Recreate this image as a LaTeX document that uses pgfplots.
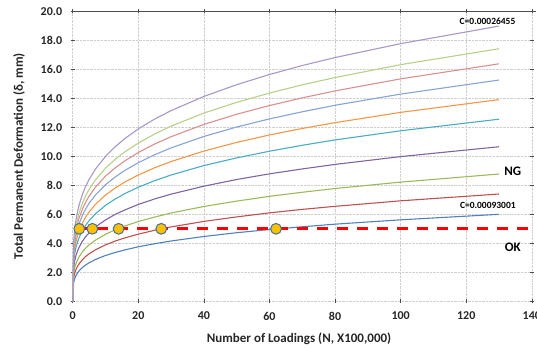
\documentclass[border=0pt]{standalone}
\usepackage{pgfplots}
\pgfplotsset{compat=1.18}
\usepackage{pgfplotstable}
\usepackage{fontspec}
\setmainfont{Carlito}
\definecolor{sBlue}{HTML}{4F81BD}
\definecolor{sRed}{HTML}{C0504D}
\definecolor{sGreen}{HTML}{9BBB59}
\definecolor{sPurple}{HTML}{8064A2}
\definecolor{sTeal}{HTML}{4BACC6}
\definecolor{sOrange}{HTML}{F79646}
\definecolor{sLBlue}{HTML}{86A4D4}
\definecolor{sPink}{HTML}{D9908E}
\definecolor{sLGreen}{HTML}{B7D08A}
\definecolor{sLav}{HTML}{A898C8}
\definecolor{mkFill}{HTML}{FFC000}
\definecolor{mkEdge}{HTML}{41719C}
\pgfplotstableread{
N    B     R     G     P      T      O      LB     PK     LG     LV
0    0     0     0     0      0      0      0      0      0      0
0.3  1.32  1.62  1.92  2.34   2.75   3.05   3.35   3.59   3.82   4.16
0.6  1.56  1.93  2.29  2.78   3.27   3.63   3.98   4.27   4.54   4.95
1    1.78  2.19  2.60  3.16   3.72   4.12   4.52   4.85   5.16   5.62
1.5  1.97  2.42  2.88  3.49   4.12   4.56   5.00   5.37   5.71   6.22
2    2.11  2.60  3.09  3.75   4.42   4.90   5.38   5.77   6.14   6.68
3    2.34  2.88  3.42  4.16   4.90   5.42   5.95   6.38   6.79   7.40
4    2.51  3.10  3.68  4.47   5.26   5.83   6.39   6.86   7.30   7.95
5    2.66  3.28  3.89  4.72   5.56   6.16   6.76   7.25   7.72   8.40
7    2.89  3.56  4.23  5.14   6.05   6.70   7.35   7.89   8.39   9.14
10   3.16  3.89  4.62  5.61   6.62   7.33   8.04   8.63   9.18   9.99
13   3.37  4.16  4.94  6.00   7.06   7.82   8.58   9.21   9.80   10.67
16   3.55  4.38  5.20  6.31   7.44   8.24   9.04   9.70   10.32  11.24
20   3.76  4.63  5.50  6.68   7.87   8.71   9.56   10.26  10.91  11.89
25   3.97  4.90  5.81  7.06   8.32   9.21   10.11  10.85  11.54  12.57
30   4.16  5.13  6.09  7.39   8.71   9.64   10.58  11.35  12.08  13.15
40   4.47  5.51  6.54  7.94   9.36   10.36  11.37  12.20  12.98  14.13
50   4.73  5.82  6.91  8.40   9.89   10.96  12.02  12.90  13.72  14.94
60   4.95  6.10  7.24  8.79   10.35  11.47  12.58  13.50  14.36  15.64
70   5.14  6.34  7.52  9.13   10.76  11.92  13.07  14.03  14.93  16.26
80   5.32  6.55  7.78  9.44   11.13  12.32  13.52  14.51  15.43  16.81
100  5.62  6.93  8.22  9.98   11.76  13.03  14.29  15.34  16.32  17.77
130  6.00  7.40  8.78  10.66  12.56  13.91  15.26  16.38  17.42  18.98
}\curves
\begin{document}
\begin{tikzpicture}[x=1pt,y=1pt]
\path[use as bounding box] (0,0) rectangle (537,349);
\begin{axis}[
  at={(72.7pt,47.7pt)}, anchor=south west,
  scale only axis, width=459.1pt, height=290pt,
  xmin=0, xmax=140, ymin=0, ymax=20,
  xtick={0,20,...,140}, ytick={0,2,...,20},
  axis line style={draw=none},
  grid=major,
  major grid style={densely dotted, gray!38, line width=0.6pt},
  tick align=center, major tick length=4pt,
  tick style={gray!60!black, line width=0.6pt},
  /pgf/number format/assume math mode=true,
  yticklabel style={font=\fontsize{12}{14}\selectfont\bfseries, text=black!85, xshift=-5pt,
     /pgf/number format/.cd, fixed, fixed zerofill, precision=1},
  xticklabel style={font=\fontsize{12}{14}\selectfont\bfseries, text=black!85, yshift=-5pt,
     /pgf/number format/.cd, fixed, precision=0},
  xlabel={Number of Loadings (N, X100,000)},
  ylabel={Total Permanent Deformation (δ, mm)},
  every axis x label/.style={at={(axis description cs:0.493,-0.130)}, anchor=center,
     font=\fontsize{13}{15}\selectfont\bfseries, text=black!85},
  every axis y label/.style={at={(axis description cs:-0.117,0.5)}, anchor=center, rotate=90,
     font=\fontsize{13}{15}\selectfont\bfseries, text=black!85},
  clip=false,
  every axis plot/.append style={line width=1.1pt},
]
\draw[gray!60!black, line width=0.8pt] (rel axis cs:0,1) -- (rel axis cs:1.01,1);
\addplot[sBlue]    table[x=N,y=B]  {\curves};
\addplot[sRed]     table[x=N,y=R]  {\curves};
\addplot[sGreen]   table[x=N,y=G]  {\curves};
\addplot[sPurple]  table[x=N,y=P]  {\curves};
\addplot[sTeal]    table[x=N,y=T]  {\curves};
\addplot[sOrange]  table[x=N,y=O]  {\curves};
\addplot[sLBlue]   table[x=N,y=LB] {\curves};
\addplot[sPink]    table[x=N,y=PK] {\curves};
\addplot[sLGreen]  table[x=N,y=LG] {\curves};
\addplot[sLav]     table[x=N,y=LV] {\curves};
\addplot[red, line width=3pt, dash pattern=on 11pt off 9pt, dash phase=16pt] coordinates {(0,5) (140,5)};
\addplot[only marks, mark=*, mark size=5.4pt, mark options={fill=mkFill, draw=mkEdge, line width=1pt}]
  coordinates {(2,5) (6,5) (14,5) (27,5) (62,5)};
\node[font=\fontsize{9.5}{11}\selectfont\bfseries] at (axis cs:126.5,19.33) {C=0.00026455};
\node[font=\fontsize{9.5}{11}\selectfont\bfseries] at (axis cs:126.6,6.59) {C=0.00093001};
\node[font=\fontsize{13}{15}\selectfont\bfseries] at (axis cs:134.2,8.94) {NG};
\node[font=\fontsize{13}{15}\selectfont\bfseries] at (axis cs:134.2,3.74) {OK};
\end{axis}
\end{tikzpicture}
\end{document}
